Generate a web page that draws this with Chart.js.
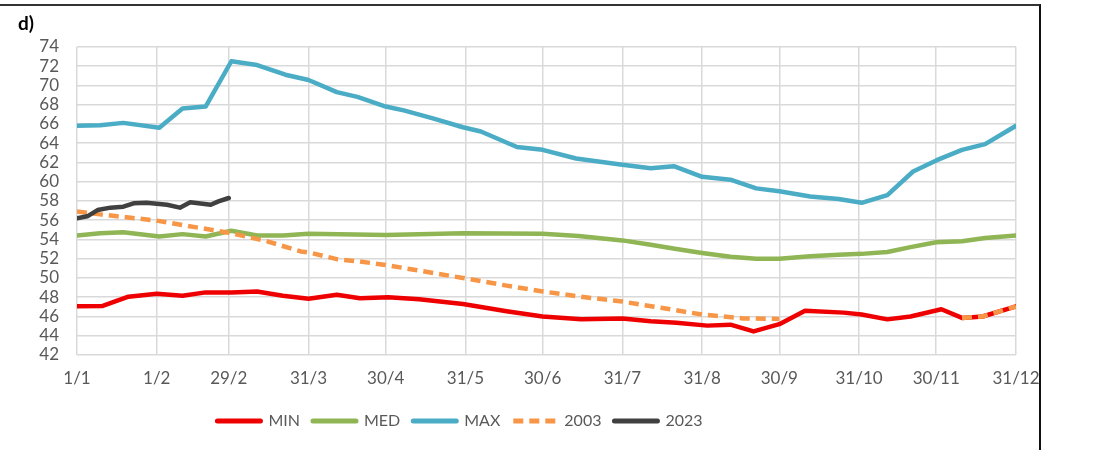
<!DOCTYPE html>
<html>
<head>
<meta charset="utf-8">
<script src="https://cdn.jsdelivr.net/npm/chart.js@4.4.1/dist/chart.umd.min.js"></script>
<style>
    html, body { margin: 0; padding: 0; background: #fff; }
    #wrap { position: relative; width: 1105px; height: 450px; }
    #frame {
        position: absolute; left: 0; top: 4px; width: 1039px; height: 444px;
        border-top: 2px solid #333; border-right: 2px solid #111; pointer-events: none;
    }
</style>
</head>
<body>
<div id="wrap">
    <canvas id="levelChart"></canvas>
    <div id="frame"></div>
</div>
<script>
// x = day of year (1/1 = 0), y = level
const xTickDays = [0, 31, 59, 90, 120, 151, 181, 212, 243, 273, 304, 334, 365];
const xTickLabels = ["1/1", "1/2", "29/2", "31/3", "30/4", "31/5", "30/6", "31/7", "31/8", "30/9", "31/10", "30/11", "31/12"];

const minDays = [0, 10, 20, 31, 41, 50, 60, 70, 80, 90, 101, 110, 121, 133, 150, 167, 181, 196, 212, 223, 233, 245, 254, 263, 273, 283, 298, 305, 315, 324, 336, 344, 352, 365];
const minValues = [47.05, 47.1, 48.05, 48.35, 48.15, 48.5, 48.5, 48.6, 48.15, 47.85, 48.25, 47.9, 48.0, 47.8, 47.3, 46.55, 46.0, 45.7, 45.8, 45.5, 45.35, 45.05, 45.15, 44.45, 45.2, 46.6, 46.4, 46.2, 45.7, 46.0, 46.75, 45.85, 46.0, 47.05];

const medDays = [0, 9, 18, 32, 41, 50, 60, 70, 80, 90, 120, 150, 181, 195, 212, 223, 233, 243, 254, 264, 273, 285, 296, 305, 315, 324, 334, 344, 353, 365];
const medValues = [54.4, 54.65, 54.75, 54.3, 54.55, 54.3, 54.9, 54.4, 54.4, 54.6, 54.45, 54.65, 54.6, 54.35, 53.9, 53.45, 53.0, 52.6, 52.2, 52.0, 52.0, 52.25, 52.4, 52.5, 52.7, 53.2, 53.7, 53.8, 54.15, 54.4];

const maxDays = [0, 9, 18, 32, 41, 50, 60, 70, 81, 90, 101, 109, 120, 127, 138, 150, 157, 171, 181, 194, 212, 223, 232, 243, 254, 264, 273, 285, 296, 305, 315, 325, 334, 344, 353, 365];
const maxValues = [65.8, 65.85, 66.1, 65.6, 67.6, 67.8, 72.5, 72.1, 71.1, 70.55, 69.3, 68.8, 67.8, 67.4, 66.6, 65.65, 65.2, 63.6, 63.3, 62.4, 61.75, 61.4, 61.6, 60.5, 60.2, 59.3, 59.0, 58.45, 58.2, 57.8, 58.6, 61.05, 62.2, 63.3, 63.9, 65.8];

const y2003Days = [0, 9, 31, 43, 59, 74, 87, 91, 101, 110, 120, 131, 150, 167, 181, 196, 212, 227, 243, 259, 273, 300, 344, 352, 365];
const y2003Values = [56.9, 56.6, 55.95, 55.4, 54.7, 53.8, 52.75, 52.6, 51.95, 51.7, 51.35, 50.85, 50.0, 49.2, 48.6, 48.05, 47.55, 46.9, 46.2, 45.8, 45.75, null, 45.85, 46.0, 47.05];

const y2023Days = [0, 4, 8, 13, 18, 22, 27, 35, 40, 44, 52, 55, 59];
const y2023Values = [56.2, 56.4, 57.05, 57.3, 57.4, 57.75, 57.8, 57.6, 57.3, 57.85, 57.6, 57.95, 58.3];

const textColor = "#595959";
const gridColor = "#d9d9d9";

function toPoints(days, values) {
    return days.map((d, i) => ({ x: d, y: values[i] }));
}

function lineSet(label, days, values, color, extra) {
    return Object.assign({
        label: label,
        data: toPoints(days, values),
        borderColor: color,
        backgroundColor: color,
        borderWidth: 4.5,
        pointRadius: 0,
        tension: 0,
        borderJoinStyle: "round",
        borderCapStyle: "round",
        spanGaps: false,
    }, extra || {});
}

// legend in the source sits left of the plot centre
const legendShift = {
    id: "legendShift",
    afterLayout(chart) {
        chart.legend.left -= 57;
        chart.legend.right -= 57;
    },
};

const ctx = document.getElementById("levelChart").getContext("2d");

// datasets listed last-to-first so that 2023 is drawn on top, legend reversed back
new Chart(ctx, {
    type: "line",
    data: {
        datasets: [
            lineSet("2023", y2023Days, y2023Values, "#404040"),
            lineSet("2003", y2003Days, y2003Values, "#f79646", { borderDash: [10, 6], borderCapStyle: "butt" }),
            lineSet("MAX", maxDays, maxValues, "#4bacc6"),
            lineSet("MED", medDays, medValues, "#8fb555"),
            lineSet("MIN", minDays, minValues, "#ee0000"),
        ],
    },
    options: {
        responsive: true,
        maintainAspectRatio: false,
        animation: false,
        layout: { padding: { left: 18, right: 89, top: 0, bottom: 11 } },
        plugins: {
            title: {
                display: true,
                text: "d)",
                align: "start",
                color: "#000",
                font: { family: "Lato", size: 19, weight: "bold" },
                padding: { top: 12, bottom: 12 },
            },
            legend: {
                position: "bottom",
                reverse: true,
                labels: {
                    usePointStyle: true,
                    pointStyle: "line",
                    pointStyleWidth: 43,
                    padding: 13,
                    color: textColor,
                    font: { family: "Lato", size: 16 },
                    generateLabels: (chart) => {
                        const items = Chart.defaults.plugins.legend.labels.generateLabels(chart);
                        items.forEach((item) => {
                            const ds = chart.data.datasets[item.datasetIndex];
                            item.lineDash = ds.borderDash || [];
                            item.lineCap = ds.borderCapStyle;
                            item.lineWidth = 5;
                            item.strokeStyle = ds.borderColor;
                        });
                        return items;
                    },
                },
            },
            tooltip: { enabled: false },
        },
        scales: {
            x: {
                type: "linear",
                min: 0,
                max: 365,
                afterBuildTicks: (axis) => {
                    axis.ticks = xTickDays.map((d) => ({ value: d }));
                },
                afterFit: (scale) => { scale.height = 45; },
                ticks: {
                    autoSkip: false,
                    maxRotation: 0,
                    padding: 13,
                    color: textColor,
                    font: { family: "Lato", size: 17 },
                    callback: (value, index) => xTickLabels[index],
                },
                grid: { color: gridColor, lineWidth: 1.5, drawTicks: false },
                border: { display: false },
            },
            y: {
                min: 42,
                max: 74,
                afterFit: (scale) => { scale.width = 59; },
                ticks: {
                    stepSize: 2,
                    autoSkip: false,
                    padding: 18,
                    color: textColor,
                    font: { family: "Lato", size: 17 },
                },
                grid: { color: gridColor, lineWidth: 1.5, drawTicks: false },
                border: { display: false },
            },
        },
    },
    plugins: [legendShift],
});
</script>
</body>
</html>
